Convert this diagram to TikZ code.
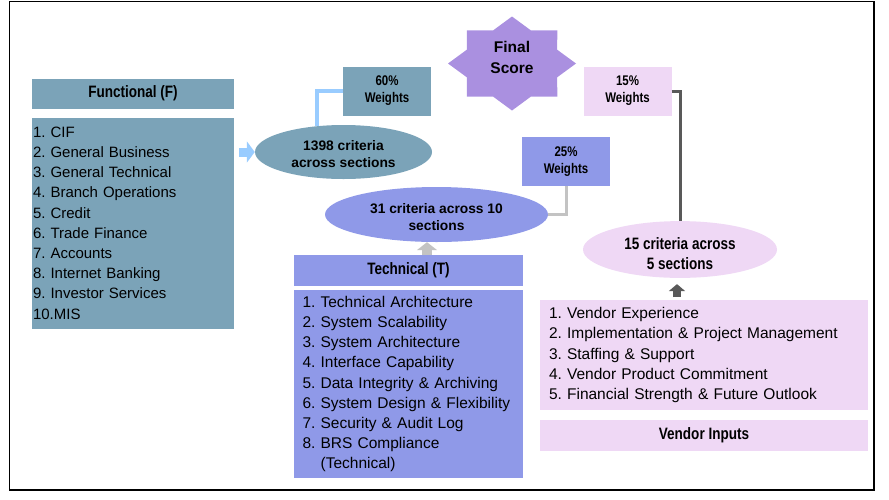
\documentclass[tikz,border=0pt]{standalone}
\usepackage{fontspec}
\setmainfont{Liberation Sans}
\newfontfamily\narrowfont[FakeStretch=0.82]{Liberation Sans}
\frenchspacing
\usepackage{tikz}
\usetikzlibrary{arrows.meta,positioning,shapes.geometric}
\definecolor{funcblue}{HTML}{7BA3B8}
\definecolor{techblue}{HTML}{8F99E8}
\definecolor{vendpink}{HTML}{EFD8F5}
\definecolor{starviolet}{HTML}{AA90E0}
\definecolor{linkblue}{HTML}{99CCFF}
\definecolor{linkgrey}{HTML}{C3C3C3}
\definecolor{darkgrey}{HTML}{595959}

\begin{document}
\begin{tikzpicture}[
x=1pt, y=-1pt,
 head/.style = {rectangle, inner sep=0pt,% styles of header boxes
                minimum height=30pt, outer sep=0pt,
                font=\narrowfont\fontsize{16.5}{20}\bfseries\selectfont},
 list/.style = {rectangle, inner ysep=0pt, align=left,% styles of list boxes
                outer sep=0pt,
                font=\fontsize{15.5}{20.2}\selectfont},
 crit/.style = {ellipse, inner sep=0pt, align=center,% styles of criteria
                text height=32pt,
                font=\fontsize{13.8}{17}\bfseries\selectfont},
 wbox/.style = {rectangle, inner sep=0pt, align=center,
                minimum width=88pt, minimum height=49pt,
                font=\narrowfont\fontsize{14}{17}\bfseries\selectfont},
 link/.style = {line width=3pt},
 fat/.style  = {-{Triangle[length=8pt,width=20pt]}},
                        ]
\useasboundingbox (0,0) rectangle (889,499);
\draw[line width=1.5pt] (9.5,1.5) rectangle (874,490);
% Functional
\node[head, fill=funcblue, minimum width=202pt] (fhead) at (133,93.5) {Functional (F)};
\node[list, fill=funcblue, minimum width=202pt, minimum height=211pt,
      text width=200pt, inner xsep=1pt, below=9pt of fhead,
      font=\fontsize{15}{20.2}\selectfont] (flist)
     {1. CIF\\2. General Business\\3. General Technical\\4. Branch Operations\\
      5. Credit\\6. Trade Finance\\7. Accounts\\8. Internet Banking\\
      9. Investor Services\\10.MIS};
% Technical
\node[head, fill=techblue, minimum width=229pt, minimum height=31pt] (thead) at (408.5,270.5) {Technical (T)};
\node[list, fill=techblue, minimum width=229pt, minimum height=188pt,
      text width=212pt, inner xsep=8.5pt, below=4pt of thead] (tlist)
     {1. Technical Architecture\\2. System Scalability\\3. System Architecture\\
      4. Interface Capability\\5. Data Integrity \& Archiving\\
      6. System Design \& Flexibility\\7. Security \& Audit Log\\
      8. BRS Compliance\\\phantom{8. }(Technical)};
% Vendor
\node[list, fill=vendpink, minimum width=328pt, minimum height=110pt,
      text width=310pt, inner xsep=9pt] (vlist) at (704,355)
     {1. Vendor Experience\\2. Implementation \& Project Management\\
      3. Staffing \& Support\\4. Vendor Product Commitment\\
      5. Financial Strength \& Future Outlook};
\node[head, fill=vendpink, minimum width=328pt, minimum height=31pt,
      below=10pt of vlist] (vhead) {Vendor Inputs};
% criteria
\node[crit, fill=funcblue, minimum width=177pt, minimum height=54pt] (e1398) at (343.5,152) {1398 criteria\\across sections};
\node[crit, fill=techblue, minimum width=223pt, minimum height=55pt] (e31) at (436.5,214.5) {31 criteria across 10\\sections};
\node[crit, fill=vendpink, minimum width=194pt, minimum height=53pt, text height=40pt,
      font=\narrowfont\fontsize{16.5}{20}\bfseries\selectfont] (e15) at (680,249.5) {15 criteria across\\5 sections};
% weights
\foreach \nm/\x/\y/\pc/\cl in {w60/387/91/60/funcblue,w15/627.5/91/15/vendpink,w25/566/161.5/25/techblue}% <-- content of nodes
    \node[wbox, fill=\cl] (\nm) at (\x,\y) {\pc\%\\Weights};
% final score
\coordinate (final) at (512,63.5);
\fill[starviolet, shift={(final)}] plot[samples at={0,...,15}, variable=\i]
     ({64*(1-0.235*mod(\i,2))*cos(\i*22.5)}, {47*(1-0.235*mod(\i,2))*sin(\i*22.5)}) -- cycle;
\node[align=center, font=\fontsize{15.5}{21}\bfseries\selectfont] (fscore) at (512,57) {Final\\Score};
% links
\draw[link, linkblue, line width=4pt] (e1398.136) |- (w60.west);
\draw[link, linkgrey] (w25.south) |- (e31.east);
\draw[link, darkgrey] (w15.east) -| (e15.north);
% block arrows
\draw[linkblue, line width=9pt, -{Triangle[length=8pt,width=21pt]}, shorten <=5pt]
     (flist.east |- e1398.west) -- (e1398.west);
\coordinate (gtip) at ([xshift=-9.5pt]e31.south);
\draw[linkgrey, line width=10pt, fat] (thead.north -| gtip) -- (gtip);
\coordinate (dtip) at ([xshift=-3pt,yshift=-6pt]e15.south);
\draw[darkgrey, line width=8pt, -{Triangle[length=7pt,width=16pt]}, shorten <=3pt]
     (vlist.north -| dtip) -- (dtip);
\end{tikzpicture}
\end{document}
